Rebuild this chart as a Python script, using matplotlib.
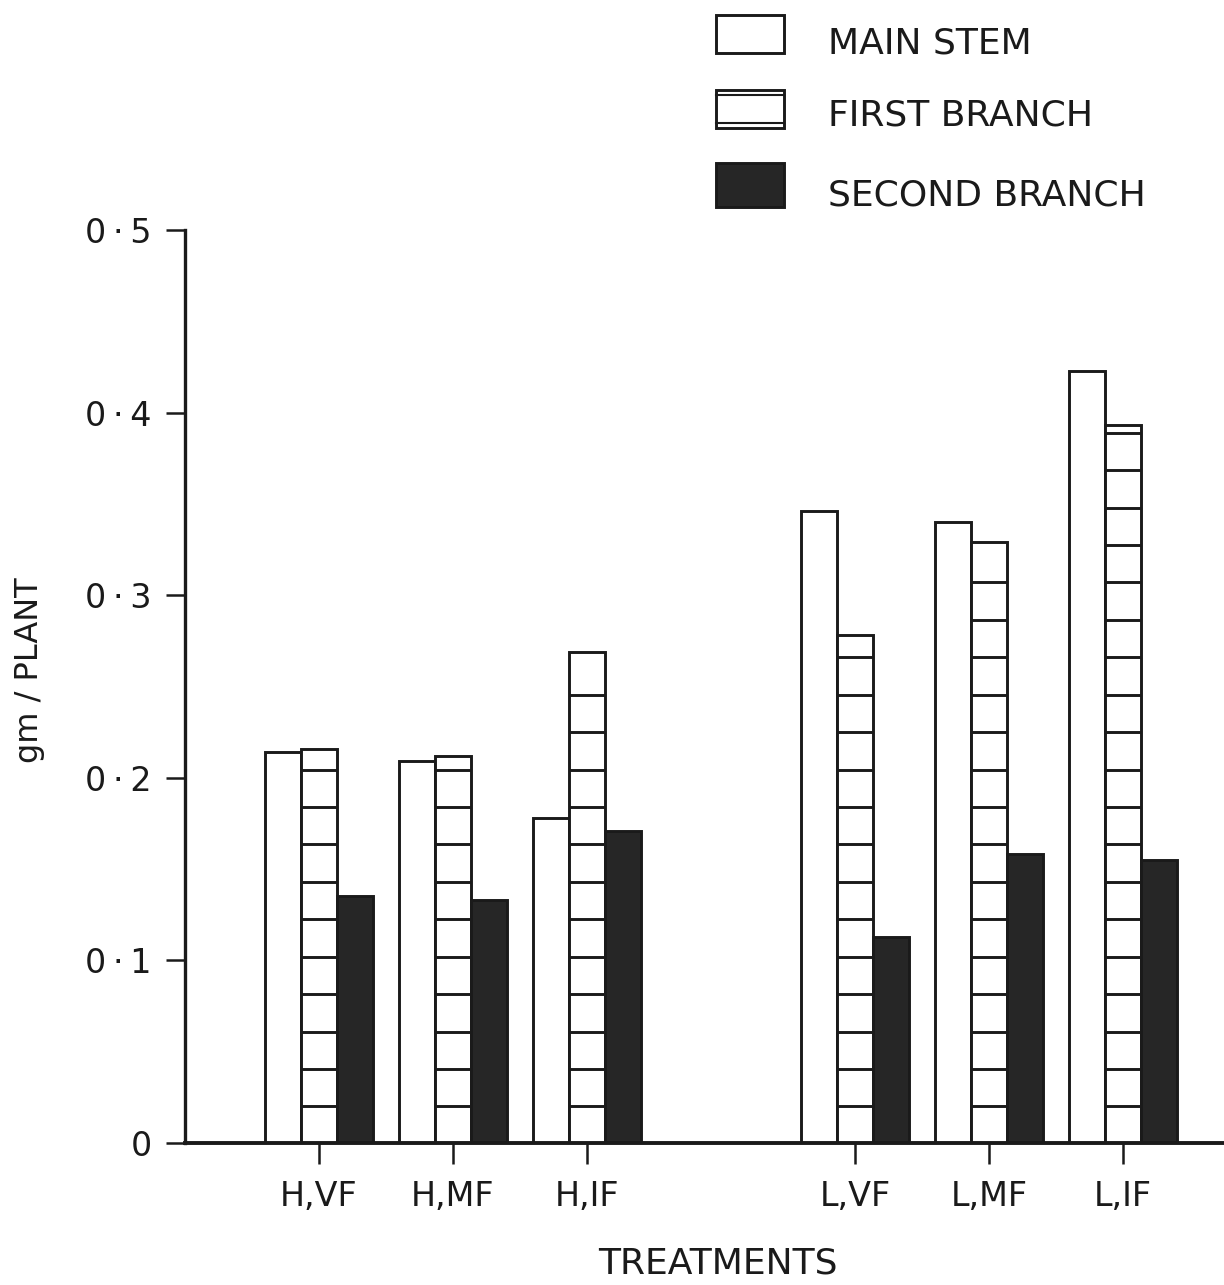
import matplotlib
matplotlib.use("Agg")
import matplotlib.pyplot as plt
import numpy as np
from matplotlib.patches import Rectangle

# data (gm / plant)
treatments = ["H,VF", "H,MF", "H,IF", "L,VF", "L,MF", "L,IF"]
positions = [0, 1, 2, 4, 5, 6]
series_names = ["MAIN STEM", "FIRST BRANCH", "SECOND BRANCH"]
main_stem = [0.214, 0.209, 0.178, 0.346, 0.340, 0.423]
first_branch = [0.216, 0.212, 0.269, 0.278, 0.329, 0.393]
second_branch = [0.135, 0.133, 0.171, 0.113, 0.158, 0.155]
y_ticks = [0, 0.1, 0.2, 0.3, 0.4, 0.5]
y_tick_labels = ["0", "0\u2009·\u20091", "0\u2009·\u20092", "0\u2009·\u20093",
                 "0\u2009·\u20094", "0\u2009·\u20095"]

INK = "#1a1a1a"
DARK = "#262626"
W = 0.27
LW = 2.1

plt.rcParams["font.family"] = ["DejaVu Sans"]

fig = plt.figure(figsize=(12.24, 12.85), dpi=100)
ax = fig.add_axes([185 / 1224, 142 / 1285, 1039 / 1224, 913 / 1285])

x = np.array(positions, dtype=float)
ax.bar(x - W, main_stem, W, color="white", edgecolor=INK, linewidth=LW, zorder=2)
ax.bar(x, first_branch, W, color="white", edgecolor=INK, linewidth=LW, zorder=2)
ax.bar(x + W, second_branch, W, color=DARK, edgecolor=INK, linewidth=LW, zorder=2)

# horizontal rungs inside the first-branch bars
for xi, h in zip(x, first_branch):
    rungs = np.arange(0.02, h - 0.003, 0.0205)
    ax.hlines(rungs, xi - W / 2, xi + W / 2, color=INK, linewidth=LW, zorder=3)

ax.set_xlim(-1.0, 6.754)
ax.set_ylim(0, 0.5)

for side in ["top", "right"]:
    ax.spines[side].set_visible(False)
ax.spines["left"].set_linewidth(2.4)
ax.spines["bottom"].set_linewidth(2.8)
ax.spines["left"].set_color(INK)
ax.spines["bottom"].set_color(INK)

ax.set_yticks(y_ticks)
ax.set_yticklabels(y_tick_labels, fontsize=24, color=INK)
ax.set_xticks(x)
ax.set_xticklabels(treatments, fontsize=24, color=INK)
ax.tick_params(axis="y", length=14, width=1.8, pad=10, color=INK)
ax.tick_params(axis="x", length=15, width=1.8, pad=12, color=INK)

fig.text(30 / 1224, 1 - 670 / 1285, "gm / PLANT", rotation=90, fontsize=23,
         color=INK, ha="center", va="center")
fig.text(718 / 1224, 1 - 1264 / 1285, "TREATMENTS", fontsize=26,
         color=INK, ha="center", va="center")

# legend drawn by hand in figure coordinates
boxes = [(15, 53), (90, 128), (163, 207)]
baselines = [53, 125, 205]
faces = ["white", "white", DARK]
for name, (top, bot), base, face in zip(series_names, boxes, baselines, faces):
    x0 = 716 / 1224
    w = 68 / 1224
    y0 = 1 - bot / 1285
    h = (bot - top) / 1285
    fig.add_artist(Rectangle((x0, y0), w, h, transform=fig.transFigure,
                             facecolor=face, edgecolor=INK, linewidth=LW))
    if name == "FIRST BRANCH":
        for yy in (top + 5, bot - 5):
            fig.add_artist(plt.Line2D([x0, x0 + w], [1 - yy / 1285] * 2,
                                      transform=fig.transFigure,
                                      color=INK, linewidth=1.5))
    fig.text(828 / 1224, 1 - base / 1285, name, fontsize=26,
             color=INK, ha="left", va="baseline")

fig.savefig("out.png", dpi=100)
